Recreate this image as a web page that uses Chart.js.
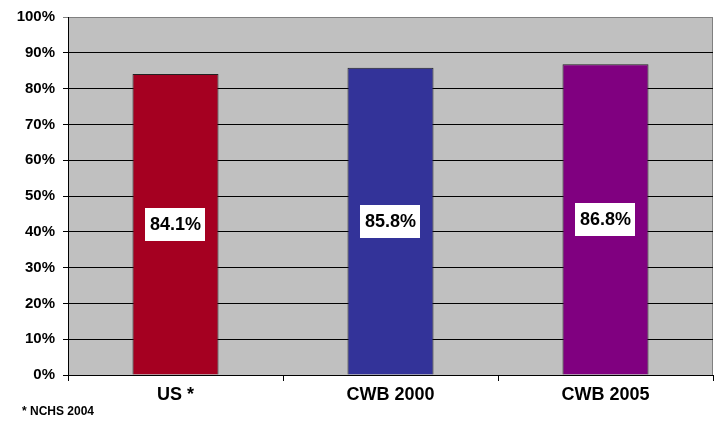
<!DOCTYPE html>
<html lang="en">
<head>
  <meta charset="UTF-8" />
  <title>CWB comparison</title>
  <script src="https://cdn.jsdelivr.net/npm/chart.js"></script>
  <style>
    body { margin: 0; background: #fff; }
    #wrap { width: 718px; height: 424px; position: relative; }
  </style>
</head>
<body>
  <div id="wrap"><canvas id="chart" width="718" height="424"></canvas></div>

  <script>
    const categories = ["US *", "CWB 2000", "CWB 2005"];
    const values = [84.1, 85.8, 86.8];
    const barColors = ["#A50021", "#333399", "#800080"];
    const footnote = "* NCHS 2004";

    const FONT = "'Liberation Sans', Arial, sans-serif";

    // gray plot background with a thin gray frame
    const plotBg = {
      id: "plotBg",
      beforeDraw(chart) {
        const { ctx, chartArea: a } = chart;
        ctx.save();
        ctx.fillStyle = "#C0C0C0";
        ctx.fillRect(a.left, a.top, a.right - a.left, a.bottom - a.top);
        ctx.strokeStyle = "#808080";
        ctx.lineWidth = 1;
        ctx.strokeRect(a.left + 0.5, a.top + 0.5, a.right - a.left - 1, a.bottom - a.top);
        ctx.restore();
      }
    };

    // white value boxes in the middle of each bar + footnote
    const valueBoxes = {
      id: "valueBoxes",
      afterDatasetsDraw(chart) {
        const ctx = chart.ctx;
        ctx.save();
        ctx.font = "bold 18px " + FONT;
        ctx.textAlign = "center";
        ctx.textBaseline = "middle";
        chart.getDatasetMeta(0).data.forEach((bar, i) => {
          const txt = values[i].toFixed(1) + "%";
          const cy = (bar.y + bar.base) / 2;
          const w = ctx.measureText(txt).width + 9;
          ctx.fillStyle = "#fff";
          ctx.fillRect(Math.round(bar.x - w / 2), Math.round(cy - 16.5), Math.round(w), 33);
          ctx.fillStyle = "#000";
          ctx.fillText(txt, bar.x, cy + 1);
        });
        ctx.font = "bold 12px " + FONT;
        ctx.textAlign = "left";
        ctx.fillText(footnote, 22, 412);
        ctx.restore();
      }
    };

    new Chart(document.getElementById("chart"), {
      type: "bar",
      data: {
        labels: categories,
        datasets: [{
          data: values,
          backgroundColor: barColors,
          borderColor: "#222",
          borderWidth: 1,
          barPercentage: 0.4,
          categoryPercentage: 1
        }]
      },
      options: {
        responsive: false,
        maintainAspectRatio: false,
        animation: false,
        layout: { padding: { top: 14, right: 5, left: 0, bottom: 0 } },
        plugins: {
          legend: { display: false },
          tooltip: { enabled: false }
        },
        scales: {
          x: {
            offset: true,
            grid: {
              offset: true,
              drawOnChartArea: false,
              drawTicks: true,
              tickLength: 6,
              color: "#000"
            },
            border: { color: "#000" },
            ticks: {
              color: "#000",
              font: { family: FONT, size: 18, weight: "bold" },
              padding: 3
            },
            afterFit(scale) { scale.height = 49; }
          },
          y: {
            min: 0,
            max: 100,
            grid: {
              color: c => c.tick.value === 100 ? "#808080" : "#000",
              tickLength: 5
            },
            border: { color: "#000" },
            ticks: {
              stepSize: 10,
              color: "#000",
              padding: 8,
              font: { family: FONT, size: 15, weight: "bold" },
              callback: v => v + "%"
            },
            afterFit(scale) { scale.width = 68; }
          }
        }
      },
      plugins: [plotBg, valueBoxes]
    });
  </script>
</body>
</html>
